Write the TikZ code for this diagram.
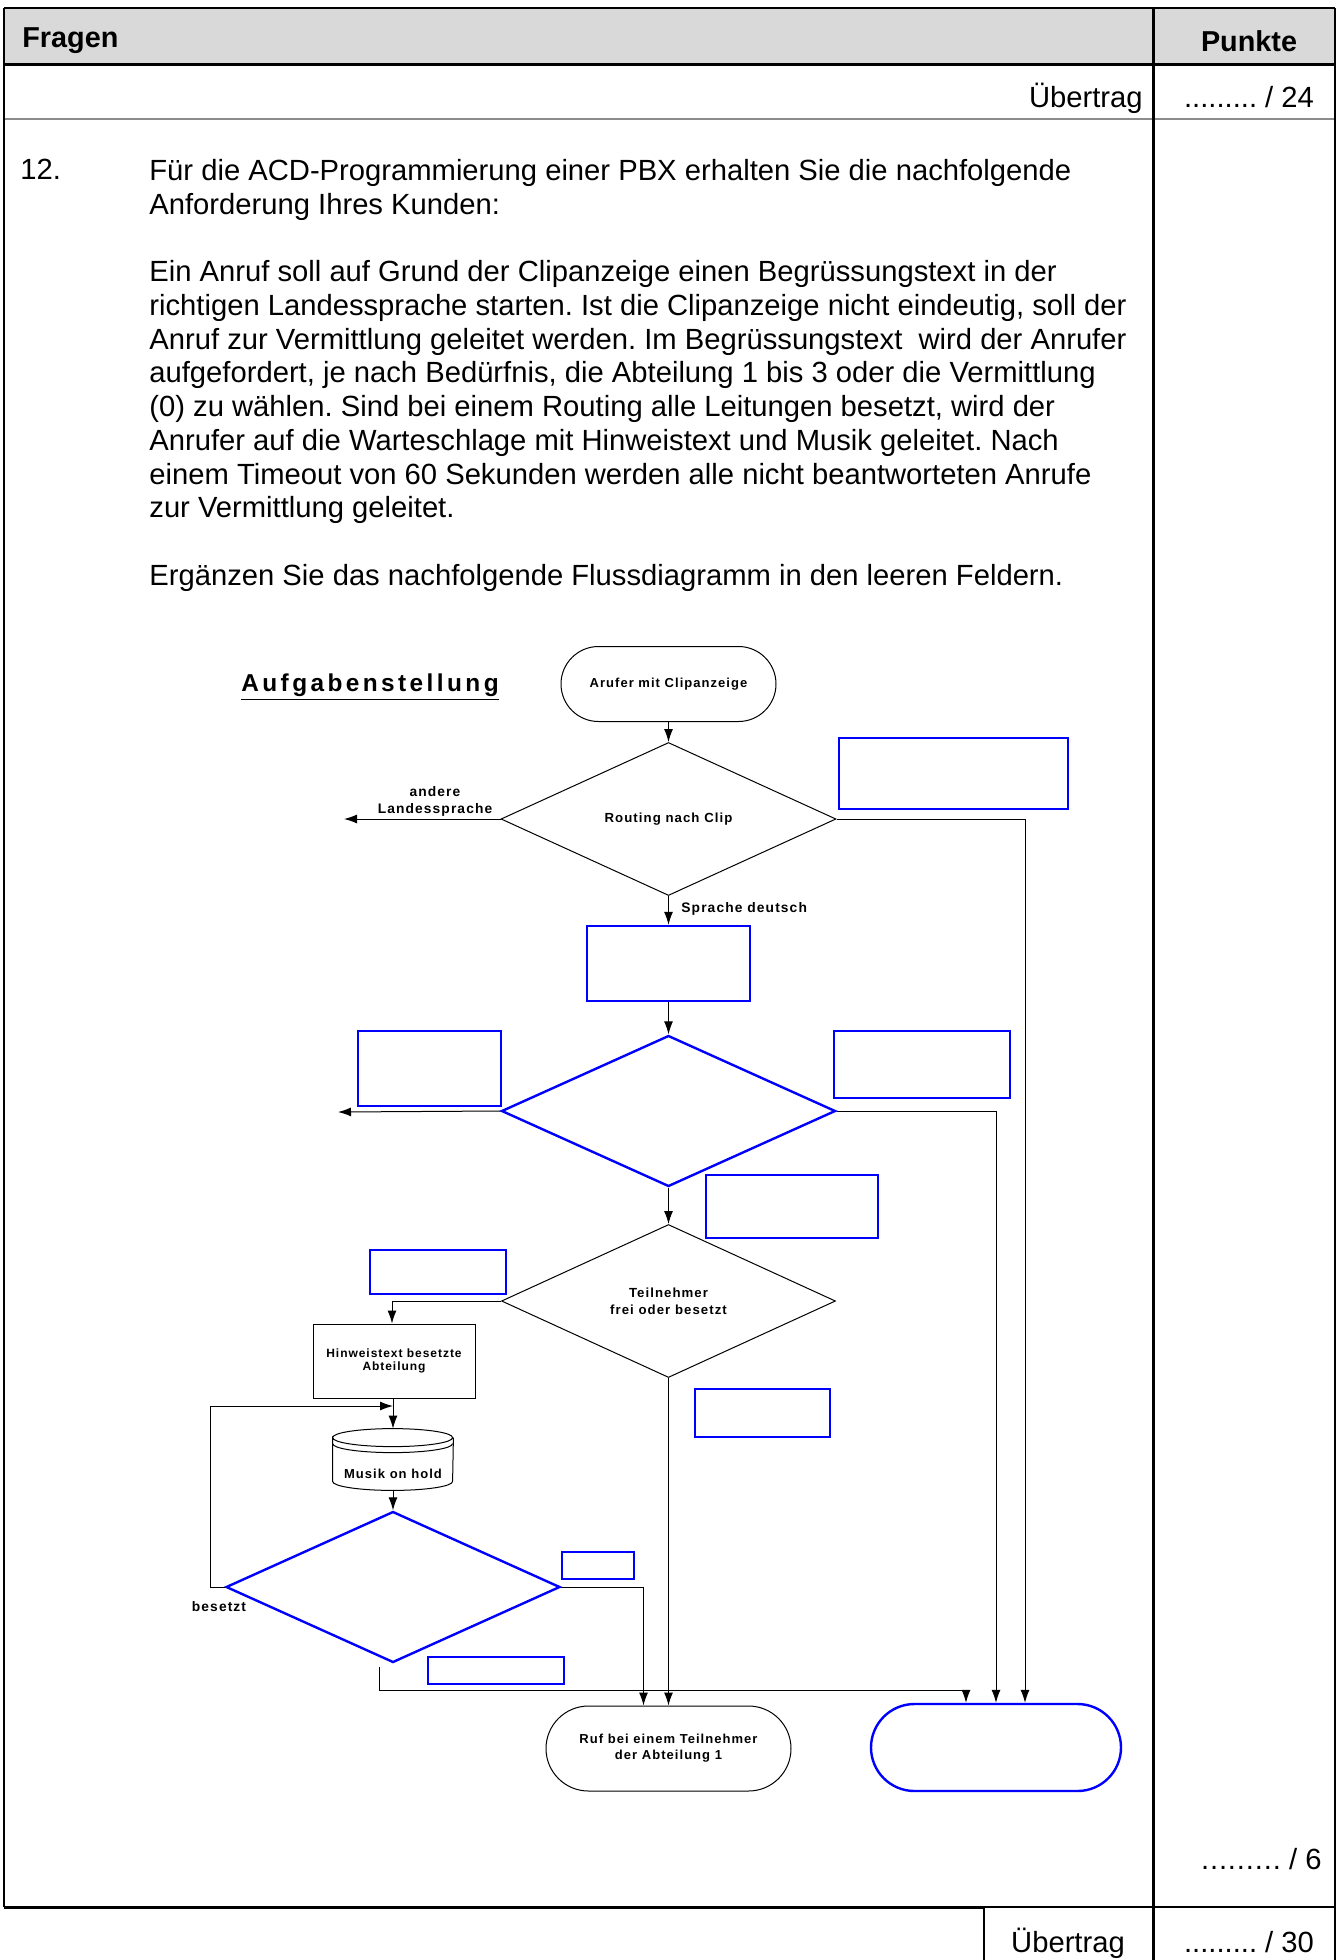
\documentclass[tikz,border=0pt]{standalone}
\usepackage{fontspec}
\setmainfont{Liberation Sans}
\newfontfamily\flowfont[LetterSpace=8]{Liberation Sans}
\newfontfamily\titelfont[LetterSpace=14]{Liberation Sans}
\newfontfamily\punktfont[LetterSpace=3]{Liberation Sans}
\usetikzlibrary{arrows.meta,positioning,shapes.geometric,shapes.misc}
\definecolor{kopfGrau}{RGB}{217,217,217}
\definecolor{feldBlau}{RGB}{0,0,255}
\definecolor{linieGrau}{RGB}{140,140,140}
\frenchspacing

\begin{document}
\begin{tikzpicture}[x=0.5pt,y=-0.5pt,
  feld/.style={draw=feldBlau,line width=1.2pt,inner sep=0pt},
  kasten/.style={draw,line width=0.5pt,inner sep=1pt,align=center,font=\flowfont\bfseries\fontsize{6}{6.9}\selectfont},
  raute/.style={diamond,draw,line width=0.5pt,inner sep=0pt,align=center,font=\flowfont\bfseries\fontsize{6.6}{8.7}\selectfont},
  terminal/.style={rounded rectangle,draw,line width=0.5pt,inner sep=0pt,align=center,font=\flowfont\bfseries\fontsize{6.5}{8.1}\selectfont},
  marke/.style={inner sep=0pt,align=center,font=\flowfont\bfseries\fontsize{6.9}{8.1}\selectfont},
  pfeil/.style={-{Latex[length=6.5pt,width=4.5pt]},line width=0.5pt},
  haupt/.style={inner sep=0pt,align=left,font=\fontsize{14.6}{16.875}\selectfont}]
  \useasboundingbox (0,0) rectangle (1337,1960);

  % Tabelle
  \fill[kopfGrau] (4,8) rectangle (1335,64);
  \draw[line width=1pt] (4,8) -- (1335,8);
  \draw[line width=1.5pt] (4,64) -- (1335,64);
  \draw[linieGrau,line width=0.75pt] (4,119) -- (1153,119);
  \draw[linieGrau,line width=1.2pt] (1153,119) -- (1335,119);
  \draw[line width=0.75pt] (4,8) -- (4,1907);
  \draw[line width=1.5pt] (1153,8) -- (1153,1960);
  \draw[line width=0.75pt] (1335,8) -- (1335,1960);
  \draw[line width=1.5pt] (4,1907) -- (984,1907);
  \draw[line width=0.75pt] (984,1907) -- (1335,1907);
  \draw[line width=0.75pt] (984,1907) -- (984,1960);

  \node[inner sep=0pt,anchor=base west,font=\bfseries\fontsize{14.4}{16}\selectfont] (fragen) at (22,47) {Fragen};
  \node[inner sep=0pt,anchor=base,font=\bfseries\fontsize{14.4}{16}\selectfont] (punkte) at (1249,51) {Punkte};
  \node[haupt,anchor=base east] (uebertrag1) at (1143,107) {Übertrag};
  \node[haupt,anchor=base] (punkte24) at (1249,107) {......... / 24};
  \node[haupt,anchor=base east] (punkte6) at (1322,1869) {{\punktfont .........}\ / 6};
  \node[haupt,anchor=base] (uebertrag2) at (1068,1952) {Übertrag};
  \node[haupt,anchor=base] (punkte30) at (1249,1952) {......... / 30};

  % Aufgabentext
  \node[haupt,anchor=north west] (nr) at (20,159) {12.};
  \node[haupt,anchor=north west] (auftrag) at (149,159)
    {Für die ACD-Programmierung einer PBX erhalten Sie die nachfolgende\\
     Anforderung Ihres Kunden:};
  \node[haupt,anchor=north west] (anforderung) at (149,260)
    {Ein Anruf soll auf Grund der Clipanzeige einen Begrüssungstext in der\\
     richtigen Landessprache starten. Ist die Clipanzeige nicht eindeutig, soll der\\
     Anruf zur Vermittlung geleitet werden. Im Begrüssungstext\ \ wird der Anrufer\\
     aufgefordert, je nach Bedürfnis, die Abteilung 1 bis 3 oder die Vermittlung\\
     (0) zu wählen. Sind bei einem Routing alle Leitungen besetzt, wird der\\
     Anrufer auf die Warteschlage mit Hinweistext und Musik geleitet. Nach\\
     einem Timeout von 60 Sekunden werden alle nicht beantworteten Anrufe\\
     zur Vermittlung geleitet.};
  \node[haupt,anchor=north west] (ergaenzen) at (149,564)
    {Ergänzen Sie das nachfolgende Flussdiagramm in den leeren Feldern.};

  % Flussdiagramm
  \node[inner sep=0pt,anchor=base,font=\titelfont\bfseries\fontsize{12.2}{14}\selectfont] (titel) at (370,691) {\underline{Aufgabenstellung}};
  \node[terminal,minimum width=107.5pt,minimum height=37.5pt] (start) at (668.5,684) {Arufer mit Clipanzeige};
  \node[raute,minimum width=167.5pt,minimum height=76.5pt] (clip) at (668.5,819) {Routing nach Clip};
  \node[feld,minimum width=81.5pt,minimum height=37.5pt] (sprache) at (668.5,963.5) {};
  \node[raute,draw=feldBlau,line width=1.2pt,minimum width=167pt,minimum height=75.5pt] (wahl) at (668.5,1111) {};
  \node[raute,minimum width=167pt,minimum height=76.5pt] (teiln) at (668.5,1301) {Teilnehmer\\frei oder besetzt};
  \node[kasten,minimum width=81pt,minimum height=37pt] (hinweis) at (394,1361) {Hinweistext besetzte\\Abteilung};
  \node[inner sep=0pt,minimum width=60pt,minimum height=30.5pt,text height=20pt,text depth=1pt,
        font=\flowfont\bfseries\fontsize{6.5}{8}\selectfont] (musik) at (393,1459.5) {Musik on hold};
  \node[raute,draw=feldBlau,line width=1.2pt,minimum width=167pt,minimum height=75.5pt] (timeout) at (393,1587) {};
  \node[terminal,minimum width=122.5pt,minimum height=42.5pt] (ruf) at (668.5,1748.5) {Ruf bei einem Teilnehmer\\der Abteilung 1};
  \node[terminal,draw=feldBlau,line width=1.2pt,minimum width=125pt,minimum height=43.5pt] (ziel) at (996,1747.5) {};

  % Musik on hold als Zylinder
  \draw[line width=0.5pt] ([yshift=-4.5pt]musik.north west)
    arc[start angle=180,end angle=0,x radius=30pt,y radius=4.5pt]
    arc[start angle=0,end angle=-180,x radius=30pt,y radius=4.5pt]
    -- ([yshift=4.5pt]musik.south west)
    arc[start angle=180,end angle=360,x radius=30pt,y radius=4.5pt]
    -- ([yshift=-4.5pt]musik.north east);
  \draw[line width=0.5pt] ([yshift=-7.5pt]musik.north west)
    arc[start angle=180,end angle=360,x radius=30pt,y radius=4.5pt];

  % leere Felder
  \node[feld,minimum width=114.5pt,minimum height=35.5pt] (leer1) at (953.5,773.5) {};
  \node[feld,minimum width=71.5pt,minimum height=37.5pt] (leer2) at (429.5,1068.5) {};
  \node[feld,minimum width=88pt,minimum height=33.5pt] (leer3) at (922,1064.5) {};
  \node[feld,minimum width=86pt,minimum height=31.5pt] (leer4) at (792,1206.5) {};
  \node[feld,minimum width=68pt,minimum height=22pt] (leer5) at (438,1272) {};
  \node[feld,minimum width=67.5pt,minimum height=24pt] (leer6) at (762.5,1413) {};
  \node[feld,minimum width=36pt,minimum height=13.5pt] (leer7) at (598,1565.5) {};
  \node[feld,minimum width=68pt,minimum height=13.5pt] (leer8) at (496,1670.5) {};

  % Verbindungen
  \draw[pfeil] (start.south) -- (clip.north);
  \coordinate (links1) at (344,819);
  \draw[pfeil] (clip.west) -- (links1);
  \node[marke] (andere) at (435,801.5) {andere\\Landessprache};
  \draw[pfeil] (clip.east) -| ([xshift=14.5pt]ziel.north);
  \draw[pfeil] (clip.south) -- (sprache.north);
  \node[marke,anchor=west] (deutsch) at (681,908.5) {Sprache deutsch};
  \draw[pfeil] (sprache.south) -- (wahl.north);
  \coordinate (links2) at (338,1112);
  \draw[pfeil] (wahl.west) -- (links2);
  \draw[pfeil] (wahl.east) -| (ziel.north);
  \draw[pfeil] (wahl.south) -- (teiln.north);
  \draw[pfeil] (teiln.west) -| ([xshift=-1pt]hinweis.north);
  \draw[pfeil] (teiln.south) -- (ruf.north);
  \draw[pfeil] ([xshift=-0.5pt]hinweis.south) -- (musik.north);
  \draw[pfeil] (musik.south) -- (timeout.north);
  \coordinate (schleife) at (210,1406);
  \draw[pfeil] (timeout.west) -| (schleife) -- (musik.north |- schleife);
  \node[marke] (besetzt) at (219,1607) {besetzt};
  \draw[pfeil] (timeout.east) -| ([xshift=-12.5pt]ruf.north);
  \draw[pfeil] ([xshift=-7pt,yshift=-1.5pt]timeout.south) -- ++(0,24) -| ([xshift=-15pt]ziel.north);
\end{tikzpicture}
\end{document}
